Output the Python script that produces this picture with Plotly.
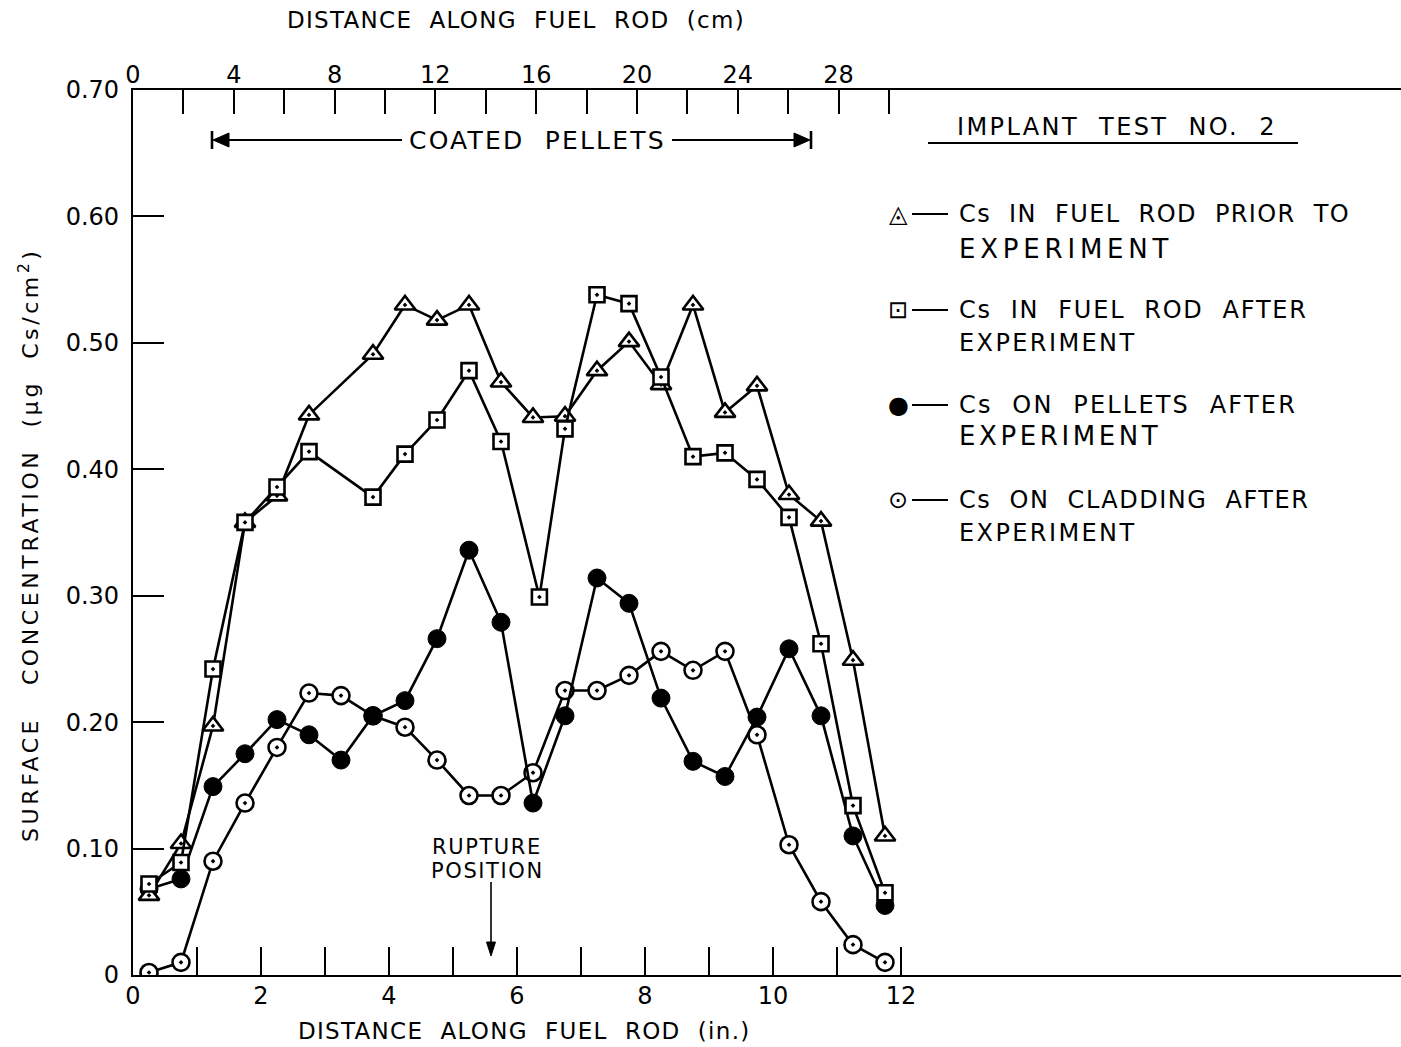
import plotly.graph_objects as go

FONT = "DejaVu Sans"

# ---------------- data ----------------
x_prior = [0.25, 0.75, 1.25, 1.75, 2.25, 2.75, 3.75, 4.25, 4.75, 5.25, 5.75, 6.25,
           6.75, 7.25, 7.75, 8.25, 8.75, 9.25, 9.75, 10.25, 10.75, 11.25, 11.75]
y_prior = [0.063, 0.104, 0.197, 0.358, 0.379, 0.443, 0.491, 0.530, 0.518, 0.530, 0.469, 0.441,
           0.442, 0.478, 0.501, 0.467, 0.530, 0.445, 0.466, 0.380, 0.359, 0.249, 0.110]

x_after = [0.25, 0.75, 1.25, 1.75, 2.25, 2.75, 3.75, 4.25, 4.75, 5.25, 5.75, 6.35,
           6.75, 7.25, 7.75, 8.25, 8.75, 9.25, 9.75, 10.25, 10.75, 11.25, 11.75]
y_after = [0.072, 0.089, 0.242, 0.358, 0.386, 0.414, 0.378, 0.412, 0.439, 0.478, 0.422, 0.299,
           0.432, 0.538, 0.531, 0.473, 0.410, 0.413, 0.392, 0.362, 0.262, 0.134, 0.065]

x_pos = [0.25, 0.75, 1.25, 1.75, 2.25, 2.75, 3.25, 3.75, 4.25, 4.75, 5.25, 5.75,
         6.25, 6.75, 7.25, 7.75, 8.25, 8.75, 9.25, 9.75, 10.25, 10.75, 11.25, 11.75]
y_pellets = [0.068, 0.076, 0.149, 0.175, 0.202, 0.190, 0.170, 0.205, 0.217, 0.266, 0.336, 0.279,
             0.136, 0.205, 0.314, 0.294, 0.219, 0.169, 0.157, 0.204, 0.258, 0.205, 0.110, 0.055]
y_cladding = [0.002, 0.010, 0.090, 0.136, 0.180, 0.223, 0.221, 0.205, 0.196, 0.170, 0.142, 0.142,
              0.160, 0.225, 0.225, 0.237, 0.256, 0.241, 0.256, 0.190, 0.103, 0.058, 0.024, 0.010]

in_tick_vals = [0, 1, 2, 3, 4, 5, 6, 7, 8, 9, 10, 11, 12]
in_tick_text = ["0", "", "2", "", "4", "", "6", "", "8", "", "10", "", "12"]
cm_tick_vals = [0, 2, 4, 6, 8, 10, 12, 14, 16, 18, 20, 22, 24, 26, 28, 30]
cm_tick_text = ["0", "", "4", "", "8", "", "12", "", "16", "", "20", "", "24", "", "28", ""]
y_tick_vals = [0, 0.1, 0.2, 0.3, 0.4, 0.5, 0.6, 0.7]
y_tick_text = ["0", "0.10", "0.20", "0.30", "0.40", "0.50", "0.60", "0.70"]

legend_lines = [
    ("Cs  IN  FUEL  ROD  PRIOR  TO", "EXPERIMENT"),
    ("Cs  IN  FUEL  ROD  AFTER", "EXPERIMENT"),
    ("Cs  ON  PELLETS  AFTER", "EXPERIMENT"),
    ("Cs  ON  CLADDING  AFTER", "EXPERIMENT"),
]
legend_glyphs = ["\u25EC", "\u22A1", "\u25CF", "\u2299"]

# ---------------- layout geometry (pixels) ----------------
W, H = 1401, 1047
L, R, T, B = 133, 1401, 90, 975
PX_PER_IN = 64.0
X_MAX = (R - L) / PX_PER_IN
Y_MAX = 0.70
PX_PER_UNIT = (B - T) / Y_MAX


def X(p):
    return (p - L) / PX_PER_IN


def Y(p):
    return (B - p) / PX_PER_UNIT


def spaced(text, ls):
    return '<span style="letter-spacing:%.1fpx">%s</span>' % (ls, text)


def f(size):
    return dict(size=size, family=FONT, color="black")


fig = go.Figure()

line_w = 2.6
fig.add_trace(go.Scatter(
    x=x_pos, y=y_cladding, mode="lines+markers", name="Cs ON CLADDING AFTER EXPERIMENT",
    line=dict(color="black", width=line_w),
    marker=dict(symbol="circle-dot", size=17, color="white", line=dict(color="black", width=2.6))))
fig.add_trace(go.Scatter(
    x=x_pos, y=y_pellets, mode="lines+markers", name="Cs ON PELLETS AFTER EXPERIMENT",
    line=dict(color="black", width=line_w),
    marker=dict(symbol="circle", size=18, color="black", line=dict(color="black", width=1))))
fig.add_trace(go.Scatter(
    x=x_prior, y=y_prior, mode="lines+markers", name="Cs IN FUEL ROD PRIOR TO EXPERIMENT",
    line=dict(color="black", width=line_w),
    marker=dict(symbol="triangle-up-dot", size=18, color="white", line=dict(color="black", width=2.6))))
fig.add_trace(go.Scatter(
    x=x_after, y=y_after, mode="lines+markers", name="Cs IN FUEL ROD AFTER EXPERIMENT",
    line=dict(color="black", width=line_w),
    marker=dict(symbol="square-dot", size=15, color="white", line=dict(color="black", width=2.6))))
# empty trace so that the top (cm) axis is drawn
fig.add_trace(go.Scatter(x=[], y=[], xaxis="x2", yaxis="y", mode="lines", hoverinfo="skip"))

annotations = []
shapes = []


def hline(x0p, x1p, yp, w=2.0):
    shapes.append(dict(type="line", x0=X(x0p), x1=X(x1p), y0=Y(yp), y1=Y(yp),
                       line=dict(color="black", width=w)))


def vline(xp, y0p, y1p, w=2.0):
    shapes.append(dict(type="line", x0=X(xp), x1=X(xp), y0=Y(y0p), y1=Y(y1p),
                       line=dict(color="black", width=w)))


def head(tipx, tipy, dx, dy, half):
    # filled triangular arrow head with its tip at (tipx, tipy)
    if dy == 0:
        pts = [(tipx, tipy), (tipx + dx, tipy - half), (tipx + dx, tipy + half)]
    else:
        pts = [(tipx, tipy), (tipx - half, tipy + dy), (tipx + half, tipy + dy)]
    path = "M " + " L ".join("%.5f,%.5f" % (X(a), Y(b)) for a, b in pts) + " Z"
    shapes.append(dict(type="path", path=path, fillcolor="black", line=dict(color="black", width=1)))


# axis titles
annotations.append(dict(xref="paper", yref="paper", x=(516 - L) / (R - L), y=(B - 20) / (B - T),
                        text=spaced("DISTANCE  ALONG  FUEL  ROD  (cm)", 1.3), showarrow=False,
                        font=f(23), xanchor="center", yanchor="middle"))
annotations.append(dict(xref="paper", yref="paper", x=(524 - L) / (R - L), y=(B - 1031) / (B - T),
                        text=spaced("DISTANCE  ALONG  FUEL  ROD  (in.)", 1.3), showarrow=False,
                        font=f(23), xanchor="center", yanchor="middle"))
annotations.append(dict(xref="paper", yref="paper", x=(29 - L) / (R - L), y=(B - 545) / (B - T),
                        text=spaced("SURFACE   CONCENTRATION  (\u03bcg  Cs/cm<sup>2</sup>)", 3.6),
                        showarrow=False, textangle=-90, font=f(22),
                        xanchor="center", yanchor="middle"))

# coated pellets
annotations.append(dict(x=X(537), y=Y(140), text=spaced("COATED  PELLETS", 2.2), showarrow=False,
                        font=f(25), xanchor="center", yanchor="middle"))
hline(222, 402, 140, 2.2)
hline(672, 800, 140, 2.2)
head(213, 140, 16, 0, 7)
head(810, 140, -16, 0, 7)
vline(212, 131, 149, 2.6)
vline(811, 131, 149, 2.6)

# implant test title
annotations.append(dict(x=X(1117), y=Y(127), text=spaced("IMPLANT  TEST  NO.  2", 2.4), showarrow=False,
                        font=f(24), xanchor="center", yanchor="middle"))
hline(928, 1298, 143, 2.0)

# legend
rows = [(214, 249, 26, 4.8, 1.35), (310, 343, 24, 2.4, 1.8),
        (405, 436, 26, 3.6, 2.2), (500, 533, 24, 2.4, 1.5)]
for (first, second), glyph, (y1, y2, s2, ls2, ls1) in zip(legend_lines, legend_glyphs, rows):
    annotations.append(dict(x=X(898), y=Y(y1), text=glyph, showarrow=False, font=f(24),
                            xanchor="center", yanchor="middle"))
    hline(912, 948, y1, 2.0)
    annotations.append(dict(x=X(957), y=Y(y1), text=spaced(first, ls1), showarrow=False,
                            font=f(24), xanchor="left", yanchor="middle"))
    annotations.append(dict(x=X(957), y=Y(y2), text=spaced(second, ls2), showarrow=False,
                            font=f(s2), xanchor="left", yanchor="middle"))

# rupture position
annotations.append(dict(x=X(487), y=Y(847), text=spaced("RUPTURE", 1.6), showarrow=False,
                        font=f(21), xanchor="center", yanchor="middle"))
annotations.append(dict(x=X(487), y=Y(871), text=spaced("POSITION", 1.6), showarrow=False,
                        font=f(21), xanchor="center", yanchor="middle"))
vline(491, 882, 945, 1.6)
head(491, 956, 0, -14, 4.5)

tickfont = f(24)
fig.update_layout(
    width=W, height=H,
    margin=dict(l=L, r=W - R, t=T, b=H - B, pad=0),
    paper_bgcolor="white", plot_bgcolor="white",
    font=dict(family=FONT, color="black"),
    showlegend=False,
    xaxis=dict(range=[0, X_MAX], tickmode="array", tickvals=in_tick_vals, ticktext=in_tick_text,
               ticks="inside", ticklen=28, tickwidth=1.6, tickcolor="black",
               showline=True, linewidth=2.2, linecolor="black", showgrid=False, zeroline=False,
               tickfont=tickfont, ticklabelstandoff=-2),
    xaxis2=dict(range=[0, X_MAX * 2.54], overlaying="x", side="top", anchor="y",
                tickmode="array", tickvals=cm_tick_vals, ticktext=cm_tick_text,
                ticks="inside", ticklen=24, tickwidth=1.6, tickcolor="black",
                showline=True, linewidth=2.2, linecolor="black", showgrid=False, zeroline=False,
                tickfont=tickfont, ticklabelstandoff=-5),
    yaxis=dict(range=[0, Y_MAX], tickmode="array", tickvals=y_tick_vals, ticktext=y_tick_text,
               ticks="inside", ticklen=31, tickwidth=1.6, tickcolor="black",
               showline=True, linewidth=2.2, linecolor="black", showgrid=False, zeroline=False,
               tickfont=tickfont, ticklabelstandoff=7),
    annotations=annotations,
    shapes=shapes,
)

fig.write_html("out.html")
